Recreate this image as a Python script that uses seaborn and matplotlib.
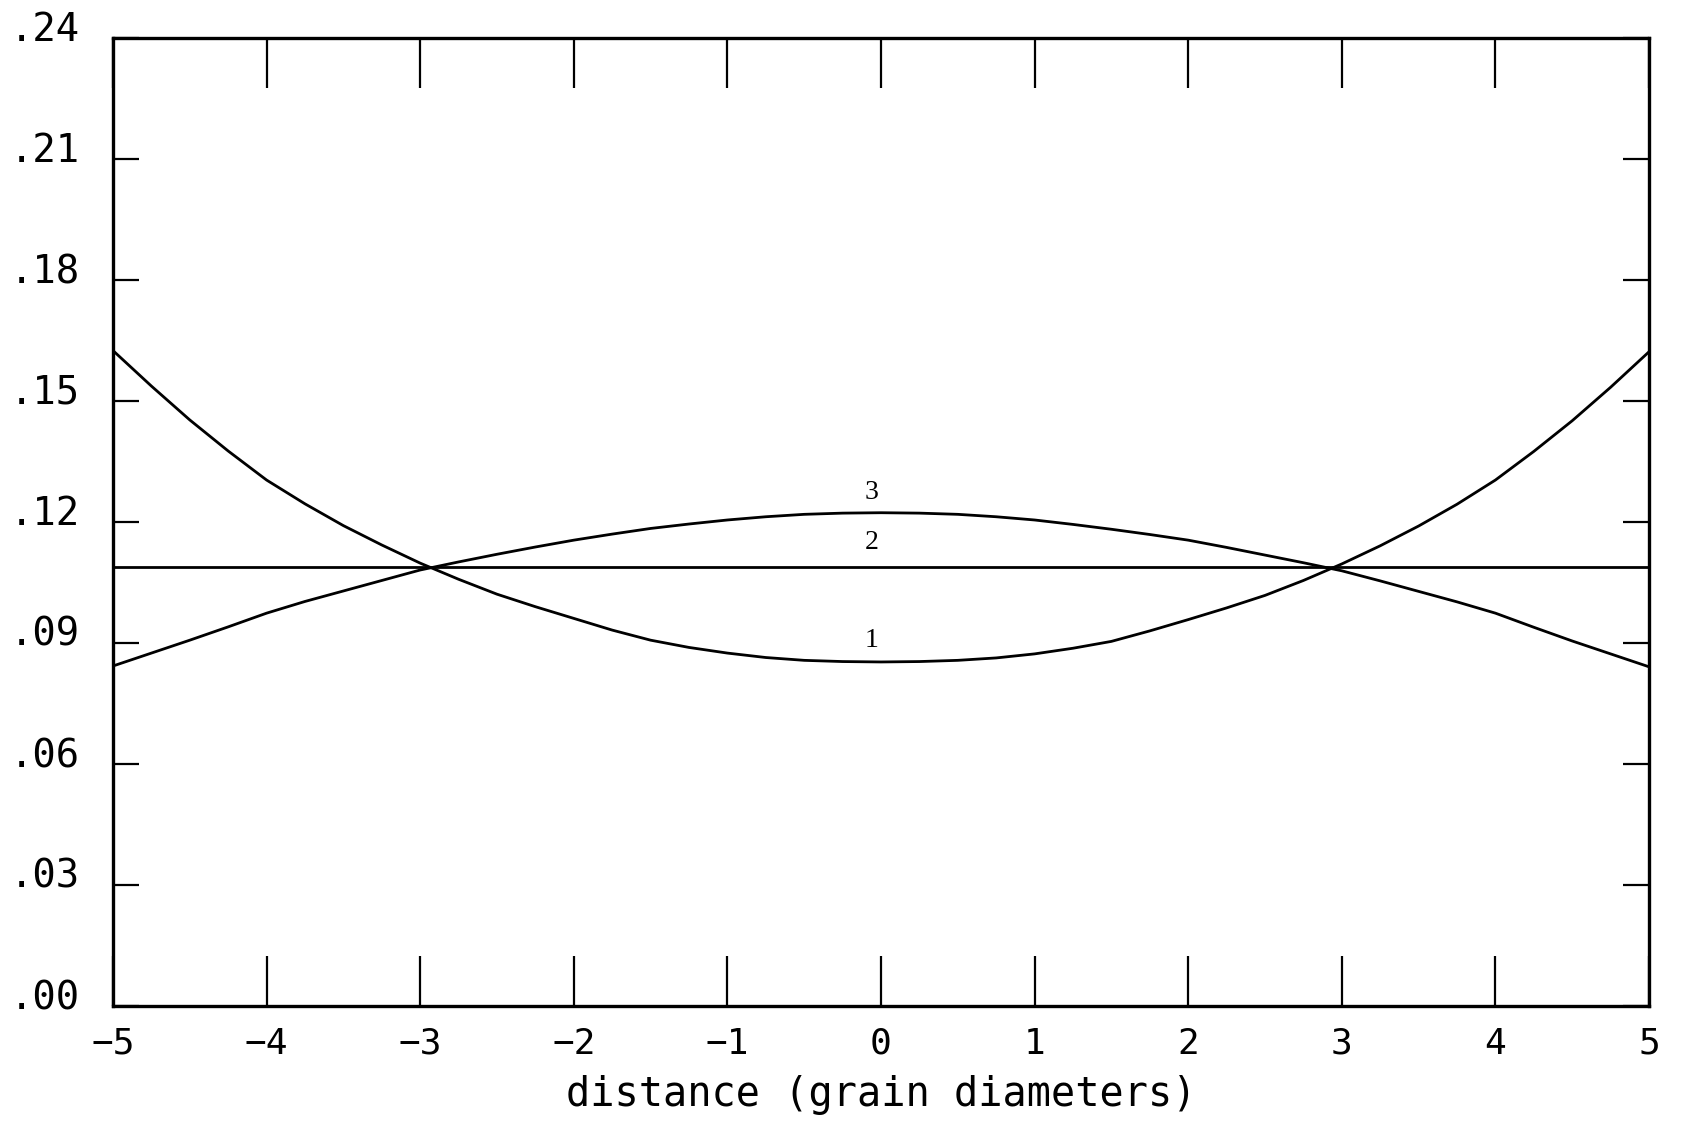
import numpy as np
import pandas as pd
import matplotlib
matplotlib.use("Agg")
import matplotlib.pyplot as plt
import matplotlib.transforms as mtransforms
import seaborn as sns

# Data
distance = [-5.0, -4.75, -4.5, -4.25, -4.0, -3.75, -3.5, -3.25, -3.0, -2.75, -2.5, -2.25,
            -2.0, -1.75, -1.5, -1.25, -1.0, -0.75, -0.5, -0.25, 0.0,
            0.25, 0.5, 0.75, 1.0, 1.25, 1.5, 1.75, 2.0, 2.25, 2.5, 2.75, 3.0,
            3.25, 3.5, 3.75, 4.0, 4.25, 4.5, 4.75, 5.0]
curve1 = [0.1625, 0.1537, 0.1453, 0.1376, 0.1304, 0.1245, 0.1191, 0.1143, 0.1098, 0.1058,
          0.1021, 0.0990, 0.0961, 0.0932, 0.0907, 0.0889, 0.0875, 0.0864, 0.0857, 0.0854, 0.0853,
          0.0854, 0.0857, 0.0863, 0.0873, 0.0887, 0.0904, 0.0930, 0.0958, 0.0987, 0.1018,
          0.1055, 0.1096, 0.1141, 0.1190, 0.1244, 0.1304, 0.1375, 0.1451, 0.1534, 0.1622]
curve2 = [0.1088] * 41
curve3 = [0.0843, 0.0875, 0.0907, 0.0940, 0.0974, 0.1003, 0.1029, 0.1055, 0.1081, 0.1101,
          0.1120, 0.1138, 0.1155, 0.1170, 0.1184, 0.1195, 0.1205, 0.1213, 0.1219, 0.1222, 0.1223,
          0.1222, 0.1219, 0.1213, 0.1205, 0.1194, 0.1182, 0.1169, 0.1155, 0.1137, 0.1118,
          0.1099, 0.1079, 0.1054, 0.1028, 0.1002, 0.0974, 0.0939, 0.0905, 0.0873, 0.0841]
curve_names = ["1", "2", "3"]
label_x = [-0.06, -0.06, -0.06]
label_y = [0.0907, 0.1150, 0.1272]

x_ticks = [-5, -4, -3, -2, -1, 0, 1, 2, 3, 4, 5]
y_ticks = [0.00, 0.03, 0.06, 0.09, 0.12, 0.15, 0.18, 0.21, 0.24]
y_tick_labels = [".00", ".03", ".06", ".09", ".12", ".15", ".18", ".21", ".24"]

n = len(distance)
df = pd.DataFrame({
    "distance": distance * 3,
    "value": curve1 + curve2 + curve3,
    "curve": ["1"] * n + ["2"] * n + ["3"] * n,
})

sns.set_theme(style="white")
plt.rcParams["font.family"] = ["DejaVu Sans Mono"]

fig = plt.figure(figsize=(16.83, 11.24), dpi=100)
ax = fig.add_axes([113 / 1683, 1 - 1006 / 1124, (1649 - 113) / 1683, (1006 - 38) / 1124])

sns.lineplot(data=df, x="distance", y="value", hue="curve",
             palette={"1": "black", "2": "black", "3": "black"},
             legend=False, ax=ax, linewidth=2.0, sort=False, estimator=None)

for name, lx, ly in zip(curve_names, label_x, label_y):
    ax.text(lx, ly, name, ha="center", va="center", fontsize=20,
            family="Liberation Serif", color="black")

ax.set_xlim(-5, 5)
ax.set_ylim(0, 0.24)
ax.set_xticks(x_ticks)
ax.set_xticklabels([str(v) if v >= 0 else "\u2212" + str(-v) for v in x_ticks])
ax.set_yticks(y_ticks)
ax.set_yticklabels(y_tick_labels)

ax.tick_params(axis="x", direction="in", length=36, width=1.6, top=True, bottom=True,
               labelsize=26, pad=15, color="black", labelcolor="black")
ax.tick_params(axis="y", direction="in", length=19, width=1.6, left=True, right=True,
               labelsize=28, pad=24, color="black", labelcolor="black")

offset = mtransforms.ScaledTranslation(0, 0.12, fig.dpi_scale_trans)
for lab in ax.get_yticklabels():
    lab.set_transform(lab.get_transform() + offset)

for s in ax.spines.values():
    s.set_visible(True)
    s.set_color("black")
    s.set_linewidth(2.4)

ax.set_xlabel("distance (grain diameters)", fontsize=29, labelpad=10, color="black")
ax.set_ylabel("")
ax.grid(False)

fig.savefig("out.png", dpi=100, facecolor="white")
